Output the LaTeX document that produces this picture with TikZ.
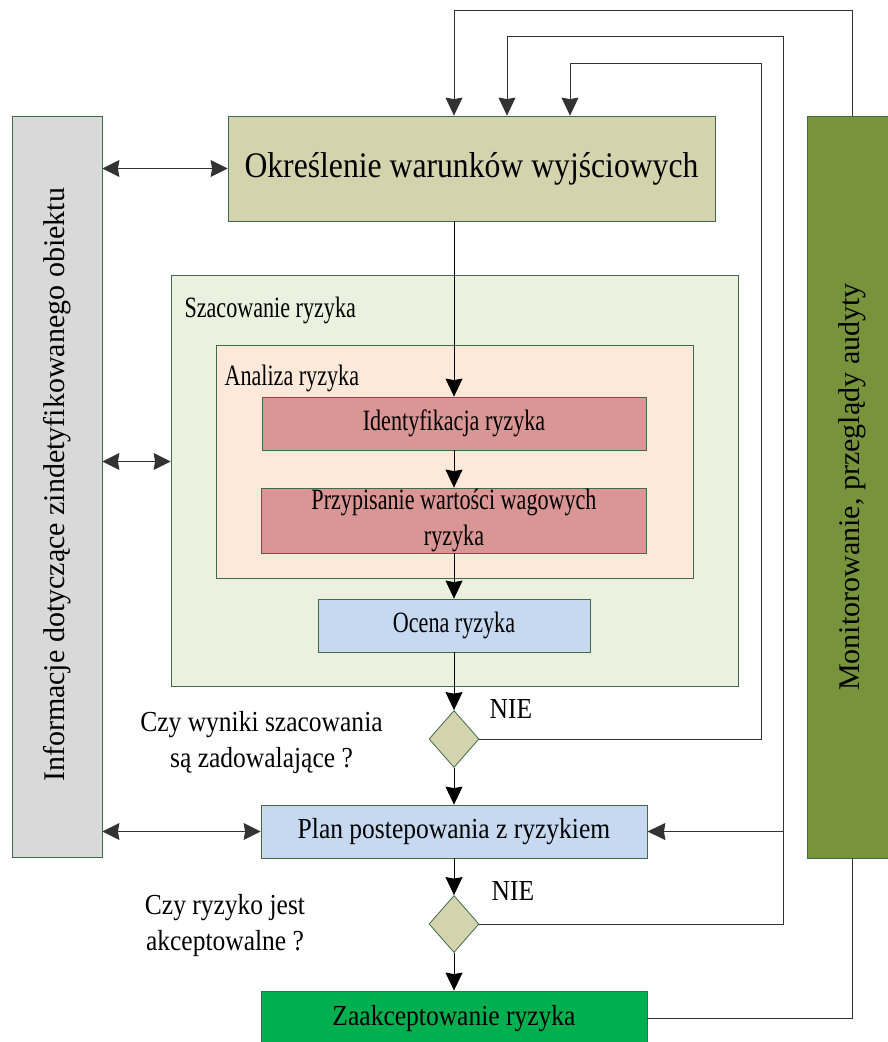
\documentclass[tikz,border=0pt]{standalone}
\usepackage{fontspec}
\setmainfont{Liberation Serif}[FakeStretch=0.88]
\newfontfamily\narrowserif{Liberation Serif}[FakeStretch=0.75]
\newfontfamily\plainserif{Liberation Serif}
\usepackage{xcolor}
\usepackage{tikz}
\usetikzlibrary{arrows.meta,shapes.geometric}

\definecolor{infogray}{HTML}{D9D9D9}
\definecolor{startolive}{HTML}{D3D4AD}
\definecolor{szacgreen}{HTML}{EBF1DE}
\definecolor{analpeach}{HTML}{FDE9D9}
\definecolor{riskred}{HTML}{D99694}
\definecolor{planblue}{HTML}{C6D9F1}
\definecolor{acceptgreen}{HTML}{00B050}
\definecolor{monitorgreen}{HTML}{77933C}
\definecolor{boxline}{HTML}{3F6B4A}

\begin{document}
\begin{tikzpicture}[x=1pt, y=-1pt, font=\fontsize{29}{36}\selectfont,
  box/.style={draw=boxline, line width=0.8pt, inner sep=0pt, align=center},
  inner/.style={box, font=\narrowserif\fontsize{29.5}{36}\selectfont},
  arr/.style={-{Stealth[length=18pt, width=17pt, inset=1.5pt]}, line width=0.9pt},
  dbl/.style={{Stealth[length=17pt, width=17pt, inset=1.5pt]}-{Stealth[length=17pt, width=17pt, inset=1.5pt]},
    line width=0.9pt, black!80},
  fb/.style={line width=0.9pt, black!80}]
\useasboundingbox (0,0) rectangle (888,1042);
% ================= side bars =================
\node[box, fill=infogray, minimum width=90pt, minimum height=741pt] (info) at (57,486.5) {};
\node[rotate=90, font=\plainserif\fontsize{30}{36}\selectfont] (infotext) at (57,485)
  {Informacje dotyczące zindetyfikowanego obiektu};
\node[box, fill=monitorgreen, minimum width=90pt, minimum height=742pt] (monitor) at (852,487) {};
\node[rotate=90, font=\plainserif\fontsize{30}{36}\selectfont] (monitortext) at (852,487)
  {Monitorowanie, przeglądy audyty};
% ================= main column =================
\node[box, fill=startolive, minimum width=487pt, minimum height=105pt,
  font=\fontsize{36}{42}\selectfont] (start) at (471.5,168.5)
  {Określenie warunków wyjściowych};
% --- risk assessment frames ---
\node[box, fill=szacgreen, minimum width=567pt, minimum height=411pt] (szac) at (454.5,480.5) {};
\node[anchor=base west, font=\narrowserif\fontsize{29.5}{36}\selectfont] (szaclabel) at (181,317)
  {Szacowanie ryzyka};
\node[box, fill=analpeach, minimum width=477pt, minimum height=233pt] (anal) at (454.5,461.5) {};
\node[anchor=base west, font=\narrowserif\fontsize{29.5}{36}\selectfont] (anallabel) at (221,385)
  {Analiza ryzyka};
\node[inner, fill=riskred, minimum width=384pt, minimum height=53pt] (ident) at (454,423.5)
  {Identyfikacja ryzyka};
\node[inner, fill=riskred, minimum width=385pt, minimum height=65pt] (przyp) at (454,520.5)
  {Przypisanie wartości wagowych\\ryzyka};
\node[inner, fill=planblue, minimum width=272pt, minimum height=53pt] (ocena) at (454,625.5)
  {Ocena ryzyka};
% --- decisions ---
\node[box, shape=diamond, fill=startolive, minimum width=50pt, minimum height=57pt] (dec1) at (454,739) {};
\node (q1) at (261.5,743) [align=center] {Czy wyniki szacowania\\są zadowalające ?};
\node (nie1) at (511,709) {NIE};
\node[box, fill=planblue, minimum width=386pt, minimum height=53pt] (plan) at (454,831.5)
  {Plan postepowania z ryzykiem};
\node[box, shape=diamond, fill=startolive, minimum width=50pt, minimum height=57pt] (dec2) at (454,924) {};
\node (q2) at (225,925.5) [align=center] {Czy ryzyko jest\\akceptowalne ?};
\node (nie2) at (513,891) {NIE};
\node[box, fill=acceptgreen, minimum width=386pt, minimum height=55pt] (zaak) at (454,1018.5)
  {Zaakceptowanie ryzyka};
% ================= flow =================
\draw[arr] (start.south -| ident.north) -- (ident.north);
\draw[arr] (ident) -- (przyp);
\draw[arr] (przyp) -- (ocena);
\draw[arr] (ocena) -- (dec1);
\draw[arr] (dec1) -- (plan);
\draw[arr] (plan) -- (dec2);
\draw[arr] (dec2) -- (zaak);
% information exchange
\draw[dbl] (info.east |- start) -- (start.west);
\draw[dbl] (info.east |- anal) -- (szac.west |- anal);
\draw[dbl] (info.east |- plan) -- (plan.west);
% feedback loops
\coordinate (fb1) at (761,63);
\coordinate (fb1in) at (570,63);
\coordinate (fb2) at (783,36);
\coordinate (fb2in) at (507,36);
\coordinate (fb3in) at (454,10);
\draw[fb, arr] (dec1.east) -| (fb1) -- (fb1in) -- (fb1in |- start.north);
\draw[fb, arr] (dec2.east) -| (fb2) -- (fb2in) -- (fb2in |- start.north);
\draw[fb, arr] (plan.east -| fb2) -- (plan.east);
\draw[fb] (zaak.east) -| (monitor.south);
\draw[fb, arr] (monitor.north) |- (fb3in) -- (fb3in |- start.north);
\end{tikzpicture}
\end{document}
